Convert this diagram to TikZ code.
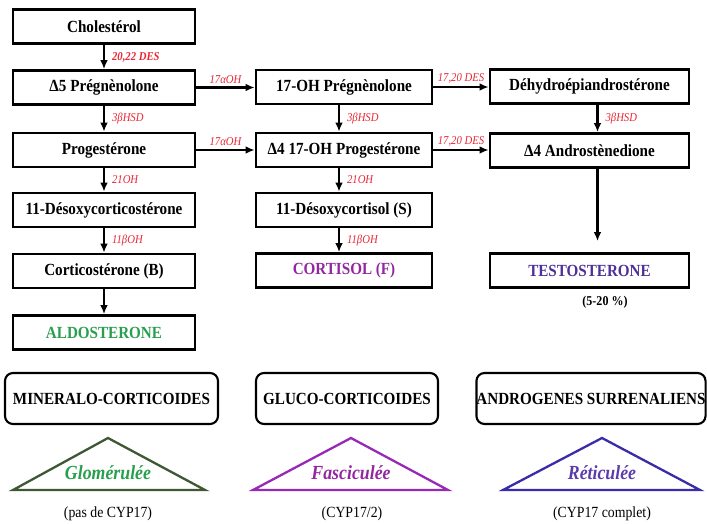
\documentclass[tikz,border=0pt]{standalone}
\usepackage{fontspec}
\setmainfont[FakeStretch=0.89]{Liberation Serif}
\usepackage{tikz}
\usetikzlibrary{arrows.meta}

\definecolor{enzred}{RGB}{232,38,52}
\definecolor{aldogreen}{RGB}{40,158,78}
\definecolor{cortpurple}{RGB}{146,40,160}
\definecolor{testoblue}{RGB}{78,48,150}
\definecolor{glomline}{RGB}{62,88,52}
\definecolor{fascline}{RGB}{150,42,182}
\definecolor{reticline}{RGB}{58,44,168}
\definecolor{retictxt}{RGB}{92,60,172}

\begin{document}
\begin{tikzpicture}[x=1pt, y=-1pt,
  box/.style={draw, line width=2.6pt, minimum height=34pt, inner sep=0pt, font=\fontsize{17}{20}\selectfont\bfseries},
  colA/.style={box, minimum width=182pt},
  colB/.style={box, minimum width=176pt},
  colC/.style={box, minimum width=199pt},
  grp/.style={draw, line width=2.1pt, rounded corners=8pt, minimum height=51pt, inner sep=0pt, font=\fontsize{17}{20}\selectfont\bfseries},
  arr/.style={line width=2.2pt, -{Latex[length=9pt,width=7.5pt]}},
  enz/.style={text=enzred, inner sep=1pt, font=\fontsize{12}{14}\selectfont\itshape},
  zone/.style={line width=2.3pt, line join=miter},
  zonetxt/.style={inner sep=0pt, font=\fontsize{20}{22}\selectfont\bfseries\itshape},
  note/.style={inner sep=0pt, font=\fontsize{15.5}{18}\selectfont}]
\useasboundingbox (0,0) rectangle (707,524);

%first column
\node[colA] (chol) at (104,26.5) {Cholestérol};
\node[colA] (preg) at (104,87.5) {Δ5 Prégnènolone};
\node[colA] (prog) at (104,150) {Progestérone};
\node[colA] (doc) at (104,210) {11-Désoxycorticostérone};
\node[colA] (corticost) at (104,271) {Corticostérone (B)};
\node[colA, text=aldogreen] (aldo) at (104,332.5) {ALDOSTERONE};

%second column
\node[colB] (ohpreg) at (344,87) {17-OH Prégnènolone};
\node[colB] (ohprog) at (344,150) {Δ4 17-OH Progestérone};
\node[colB] (desoxy) at (344,210) {11-Désoxycortisol (S)};
\node[colB, text=cortpurple] (cortisol) at (344,270.5) {CORTISOL (F)};

%third column
\node[colC] (dhea) at (589.5,86.5) {Déhydroépiandrostérone};
\node[colC] (andro) at (589.5,150.5) {Δ4 Androstènedione};
\node[colC, text=testoblue] (testo) at (589.5,270.5) {TESTOSTERONE};
\node[inner sep=0pt, font=\fontsize{13.5}{16}\selectfont\bfseries] (pct) at (605,302) {(5-20 \%)};

%vertical steps
\draw[arr] (chol) -- node[enz, right=6pt, font=\fontsize{12}{14}\selectfont\bfseries\itshape] {20,22 DES} (preg);
\draw[arr] (preg) -- node[enz, right=6pt] {3βHSD} (prog);
\draw[arr] (prog) -- node[enz, right=6pt] {21OH} (doc);
\draw[arr] (doc) -- node[enz, right=6pt] {11βOH} (corticost);
\draw[arr] (corticost) -- (aldo);
\draw[arr] ([xshift=-5pt]ohpreg.south) -- node[enz, right=6pt] {3βHSD} ([xshift=-5pt]ohprog.north);
\draw[arr] ([xshift=-5pt]ohprog.south) -- node[enz, right=6pt] {21OH} ([xshift=-5pt]desoxy.north);
\draw[arr] ([xshift=-5pt]desoxy.south) -- node[enz, right=6pt] {11βOH} ([xshift=-5pt]cortisol.north);
\draw[arr] ([xshift=8pt]dhea.south) -- node[enz, right=6pt] {3βHSD} ([xshift=8pt]andro.north);
\draw[arr] ([xshift=8pt]andro.south) -- ([xshift=8pt,yshift=11pt]testo.north);

%horizontal steps
\draw[arr] (preg.east) -- node[enz, above=2pt] {17αOH} (preg.east -| ohpreg.west);
\draw[arr] (prog.east) -- node[enz, above=2pt] {17αOH} (prog.east -| ohprog.west);
\draw[arr] (ohpreg.east) -- node[enz, above=2pt] {17,20 DES} (ohpreg.east -| dhea.west);
\draw[arr] (ohprog.east) -- node[enz, above=2pt] {17,20 DES} (ohprog.east -| andro.west);

%groups
\node[grp, minimum width=213pt] (mineralo) at (111.5,398.5) {MINERALO-CORTICOIDES};
\node[grp, minimum width=182pt] (gluco) at (347,398.5) {GLUCO-CORTICOIDES};
\node[grp, minimum width=229pt] (surren) at (591,398.5) {ANDROGENES SURRENALIENS};

%zones
\draw[zone, draw=glomline] (13,490) -- (108,438) -- (205,490) -- cycle;
\node[zonetxt, text=aldogreen] (glom) at (108,473) {Glomérulée};
\node[note] (nocyp) at (108,514) {(pas de CYP17)};

\draw[zone, draw=fascline] (253,490) -- (351,438) -- (448,490) -- cycle;
\node[zonetxt, text=cortpurple] (fasc) at (351,473) {Fasciculée};
\node[note] (halfcyp) at (352,514) {(CYP17/2)};

\draw[zone, draw=reticline] (503,490) -- (602,438) -- (700,490) -- cycle;
\node[zonetxt, text=retictxt] (retic) at (602,473) {Réticulée};
\node[note] (fullcyp) at (602,514) {(CYP17 complet)};
\end{tikzpicture}
\end{document}
